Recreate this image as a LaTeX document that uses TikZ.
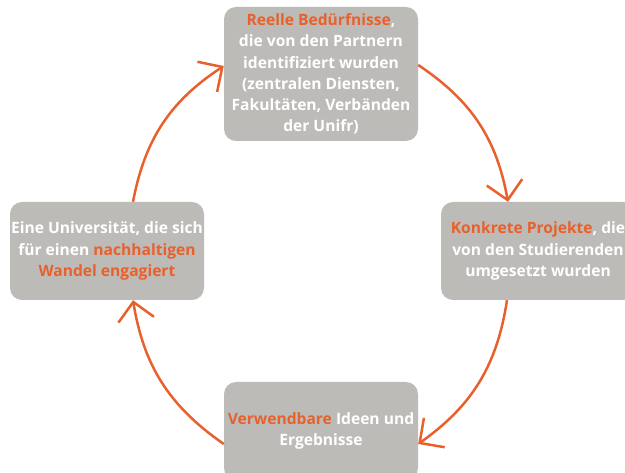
\documentclass[tikz,border=0pt]{standalone}
\usepackage{fontspec}
\setmainfont{Open Sans}
\usetikzlibrary{arrows.meta}
\definecolor{boxgrey}{RGB}{189,187,184}
\definecolor{accent}{RGB}{232,97,44}
\newcommand{\orng}[1]{\textcolor{accent}{#1}}
\begin{document}
\begin{tikzpicture}[x=1pt,y=-1pt,
  card/.style={fill=boxgrey, rounded corners=12pt, minimum width=194pt, text=white,
    align=center, font=\bfseries\fontsize{15.6}{21.3}\selectfont, inner sep=0pt},
  cycleedge/.style={draw=accent, line width=2.5pt,
    -{Straight Barb[length=18pt,width=36pt]}}]
\useasboundingbox (0,0) rectangle (625,473);
\node[card, minimum height=134pt] (top) at (321,74)
  {\orng{Reelle Bedürfnisse},\\die von den Partnern\\identifiziert wurden\\(zentralen Diensten,\\Fakultäten, Verbänden\\der Unifr)};
\node[card, minimum height=98pt] (right) at (538,251)
  {\orng{Konkrete Projekte}, die\\von den Studierenden\\umgesetzt wurden};
\node[card, minimum height=98pt] (bottom) at (321,431)
  {\orng{Verwendbare} Ideen und\\Ergebnisse};
\node[card, minimum height=98pt] (left) at (107,251)
  {Eine Universität, die sich\\für einen \orng{nachhaltigen}\\\orng{Wandel engagiert}};
\draw[cycleedge] ([yshift=9pt]top.east) to[bend left=23] ([xshift=-30pt]right.north);
\draw[cycleedge] ([xshift=-31pt]right.south) to[bend left=23] ([yshift=-13pt]bottom.east);
\draw[cycleedge] ([yshift=-13pt]bottom.west) to[bend left=23] ([xshift=26pt]left.south);
\draw[cycleedge] ([xshift=26pt]left.north) to[bend left=23] ([yshift=8pt]top.west);
\end{tikzpicture}
\end{document}
